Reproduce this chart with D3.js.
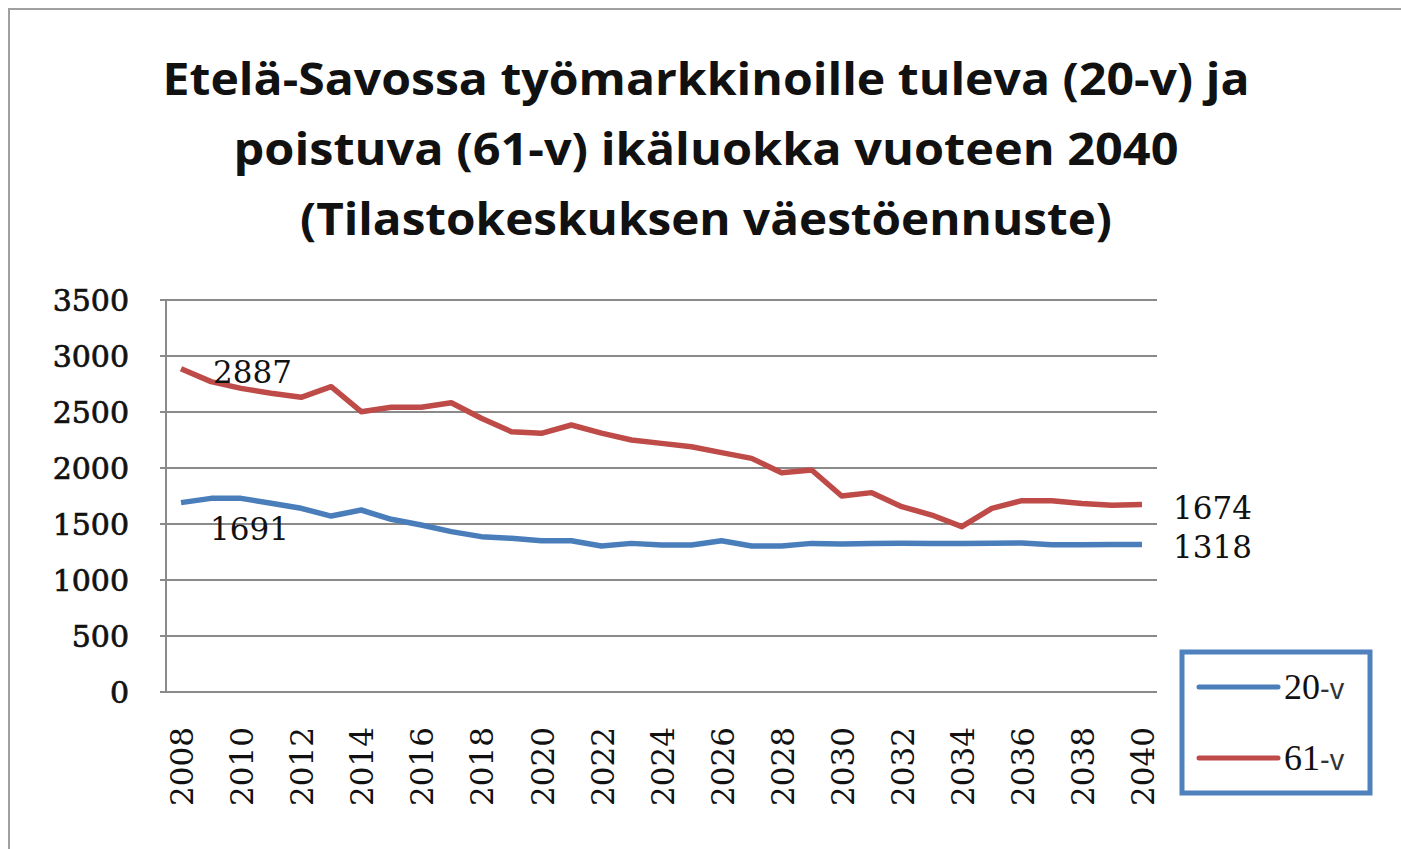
<!DOCTYPE html>
<html>
<head>
<meta charset="utf-8" />
<script src="https://d3js.org/d3.v7.min.js"></script>
<style>
  body { margin: 0; background: #fff; }
</style>
</head>
<body>
<script>
  // chart data
  var years = ["2008","2009","2010","2011","2012","2013","2014","2015","2016","2017","2018",
               "2019","2020","2021","2022","2023","2024","2025","2026","2027","2028","2029",
               "2030","2031","2032","2033","2034","2035","2036","2037","2038","2039","2040"];
  var yearLabels = ["2008","2010","2012","2014","2016","2018","2020","2022","2024","2026",
                    "2028","2030","2032","2034","2036","2038","2040"];
  var values20 = [1691,1729,1729,1685,1640,1571,1625,1542,1491,1432,1387,
                  1372,1351,1351,1304,1327,1312,1312,1351,1304,1304,1327,
                  1322,1325,1328,1326,1327,1329,1330,1315,1315,1316,1318];
  var values61 = [2887,2771,2711,2667,2631,2726,2503,2542,2542,2583,2444,
                  2324,2310,2384,2312,2250,2220,2190,2137,2086,1958,1982,
                  1750,1780,1655,1580,1476,1640,1708,1708,1684,1668,1674];
  var yTicks = [0,500,1000,1500,2000,2500,3000,3500];
  var seriesNames = ["20-v","61-v"];
  var titleLines = ["Etelä-Savossa työmarkkinoille tuleva (20-v) ja",
                    "poistuva (61-v) ikäluokka vuoteen 2040",
                    "(Tilastokeskuksen väestöennuste)"];

  var W = 1401, H = 849;
  var blue = "#4a7ebb", red = "#be4b48", grid = "#8a8a8a";

  var svg = d3.select("body").append("svg")
              .attr("width", W)
              .attr("height", H);

  // outer frame (right / bottom edges fall outside the picture)
  svg.append("rect")
     .attr("x", 9).attr("y", 9)
     .attr("width", W + 20).attr("height", H + 20)
     .attr("fill", "#fff")
     .attr("stroke", "#a0a0a0")
     .attr("stroke-width", 2);

  // title
  var titleWidths = [1087, 945, 812];
  svg.selectAll("text.title")
     .data(titleLines)
     .enter().append("text")
     .attr("class", "title")
     .attr("x", 706)
     .attr("y", function(d, i) { return 95 + i * 70; })
     .attr("text-anchor", "middle")
     .attr("textLength", function(d, i) { return titleWidths[i]; })
     .attr("lengthAdjust", "spacingAndGlyphs")
     .style("font-family", "'Open Sans', sans-serif")
     .style("font-weight", 700)
     .style("font-size", "45px")
     .style("fill", "#111")
     .text(function(d) { return d; });

  var x = d3.scaleBand().domain(years).range([166, 1157]);
  var y = d3.scaleLinear().domain([0, 3500]).range([692, 300]);
  var cx = function(yr) { return x(yr) + x.bandwidth() / 2; };

  // gridlines
  svg.append("g")
     .selectAll("line")
     .data(yTicks)
     .enter().append("line")
     .attr("x1", 160).attr("x2", 1157)
     .attr("y1", function(d) { return y(d); })
     .attr("y2", function(d) { return y(d); })
     .attr("stroke", grid)
     .attr("stroke-width", 2);

  // y axis line
  svg.append("line")
     .attr("x1", 166).attr("x2", 166)
     .attr("y1", y(3500)).attr("y2", y(0))
     .attr("stroke", grid)
     .attr("stroke-width", 2);

  // y tick labels (a little heavier than the year labels)
  svg.append("g")
     .selectAll("text")
     .data(yTicks)
     .enter().append("text")
     .attr("x", 129)
     .attr("y", function(d) { return y(d); })
     .attr("dy", "0.36em")
     .attr("text-anchor", "end")
     .style("font-family", "'DejaVu Serif', serif")
     .style("font-size", "30px")
     .style("fill", "#111")
     .style("stroke", "#111")
     .style("stroke-width", 0.7)
     .text(function(d) { return d; });

  // x tick labels (every second year, rotated)
  svg.append("g")
     .selectAll("text")
     .data(yearLabels)
     .enter().append("text")
     .attr("transform", function(d) { return "translate(" + (cx(d) + 1) + ",727) rotate(-90)"; })
     .attr("dy", "0.36em")
     .attr("text-anchor", "end")
     .style("font-family", "'DejaVu Serif', serif")
     .style("font-size", "31px")
     .style("fill", "#111")
     .text(function(d) { return d; });

  // lines
  var line = d3.line()
               .x(function(d, i) { return cx(years[i]); })
               .y(function(d) { return y(d); });

  [[values20, blue], [values61, red]].forEach(function(s) {
    svg.append("path")
       .datum(s[0])
       .attr("fill", "none")
       .attr("stroke", s[1])
       .attr("stroke-width", 5.5)
       .attr("stroke-linejoin", "round")
       .attr("d", line);
  });

  // data labels at first and last points
  var last = years.length - 1;
  var dataLabels = [
    { v: values61[0], yr: years[0], dx: 32, dy: 14 },
    { v: values20[0], yr: years[0], dx: 29, dy: 37 },
    { v: values61[last], yr: years[last], dx: 31, dy: 14 },
    { v: values20[last], yr: years[last], dx: 31, dy: 14 }
  ];
  svg.append("g")
     .selectAll("text")
     .data(dataLabels)
     .enter().append("text")
     .attr("x", function(d) { return cx(d.yr) + d.dx; })
     .attr("y", function(d) { return y(d.v) + d.dy; })
     .style("font-family", "'DejaVu Serif', serif")
     .style("font-size", "31px")
     .style("fill", "#111")
     .text(function(d) { return d.v; });

  // legend
  var legend = svg.append("g");
  legend.append("rect")
        .attr("x", 1182).attr("y", 652)
        .attr("width", 188).attr("height", 141)
        .attr("fill", "#fff")
        .attr("stroke", "#4f81bd")
        .attr("stroke-width", 5);

  var items = legend.selectAll("g.item")
        .data(seriesNames)
        .enter().append("g")
        .attr("class", "item")
        .attr("transform", function(d, i) { return "translate(0," + (687 + i * 71) + ")"; });

  items.append("line")
       .attr("x1", 1199).attr("x2", 1278)
       .attr("y1", 0).attr("y2", 0)
       .attr("stroke", function(d, i) { return i === 0 ? blue : red; })
       .attr("stroke-width", 5)
       .attr("stroke-linecap", "round");

  var lt = items.append("text")
       .attr("x", 1284)
       .attr("y", 12)
       .style("fill", "#111");
  lt.append("tspan")
    .style("font-family", "'Liberation Serif', serif")
    .style("font-size", "36px")
    .text(function(d) { return d.split("-")[0]; });
  lt.append("tspan")
    .style("font-family", "'Liberation Sans', sans-serif")
    .style("font-size", "29px")
    .style("fill", "#333")
    .text(function(d) { return "-" + d.split("-")[1]; });
</script>
</body>
</html>
